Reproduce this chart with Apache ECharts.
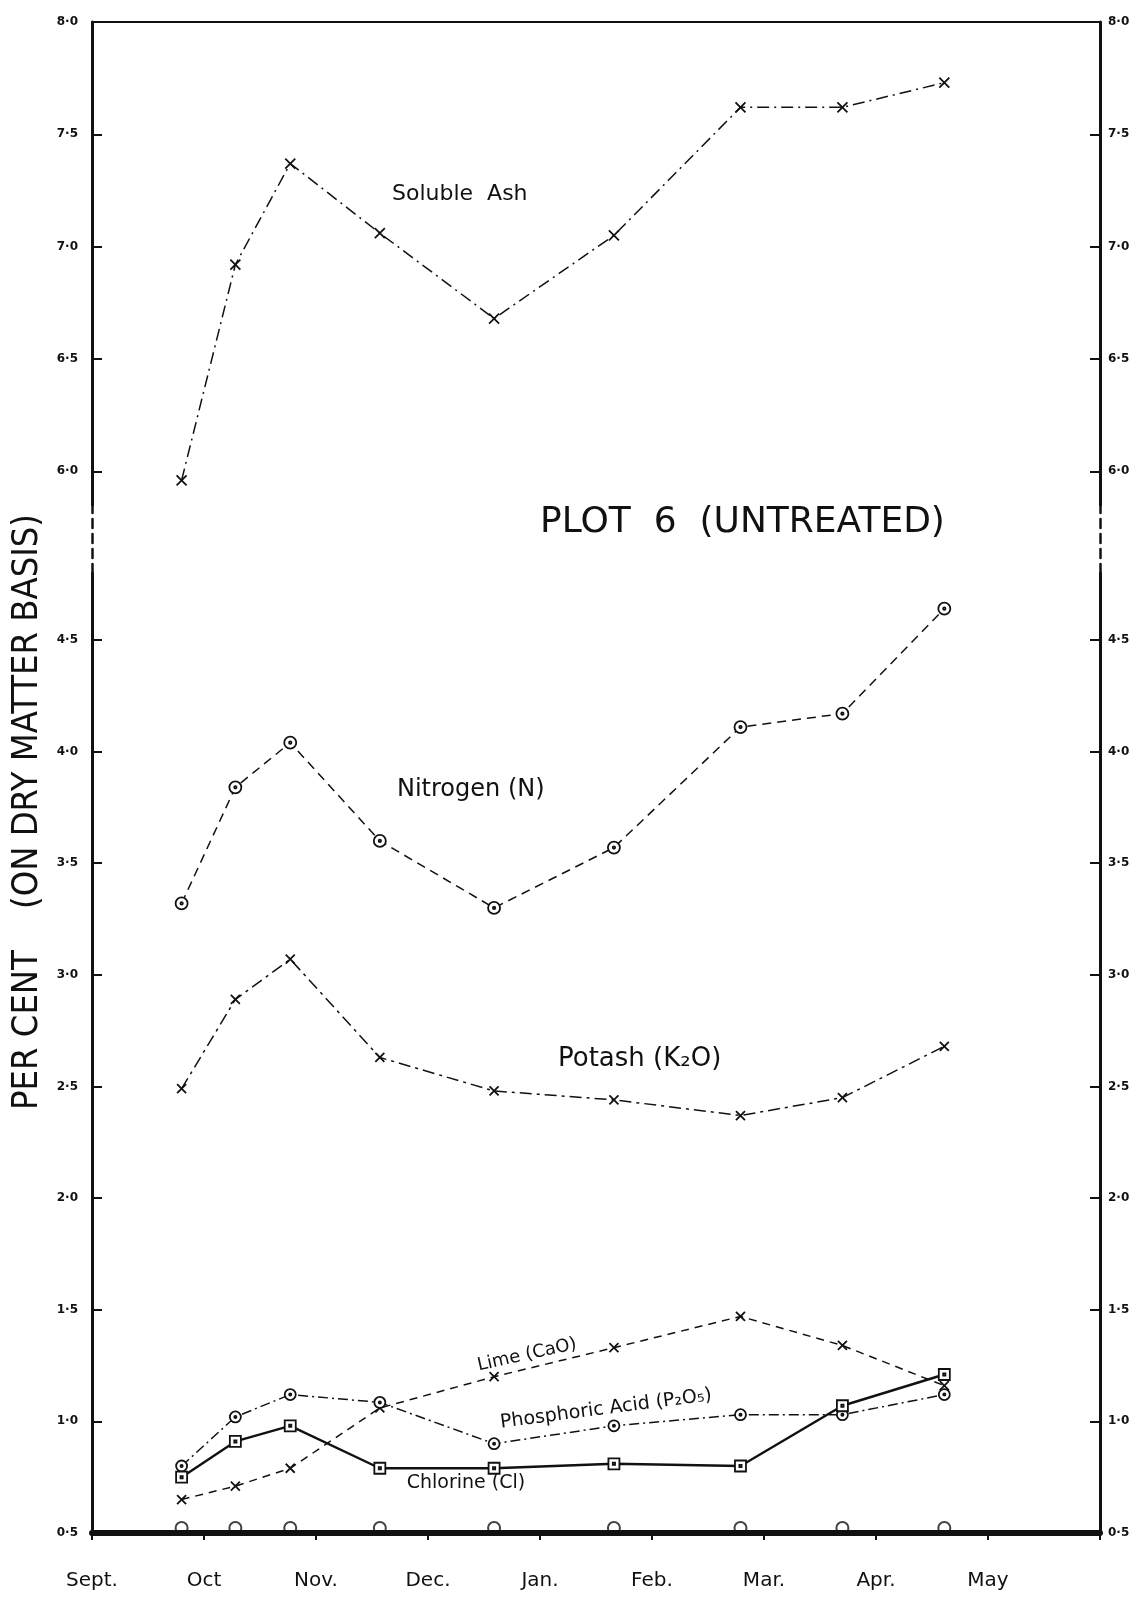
<!DOCTYPE html>
<html>
<head>
<meta charset="utf-8">
<title>Plot 6 (Untreated)</title>
<script src="https://cdn.jsdelivr.net/npm/echarts@6/dist/echarts.min.js"></script>
</head>
<body style="margin:0;background:#fff;">
<div id="main" style="width:1143px;height:1597px;"></div>
<script type="text/javascript">
// month names under the axis (Sept = 0 ... May = 8, right edge = 9)
var months = ['Sept.', 'Oct', 'Nov.', 'Dec.', 'Jan.', 'Feb.', 'Mar.', 'Apr.', 'May', ''];
// sampling dates, in months after 1st Sept.
var sampleAt = [0.8, 1.28, 1.77, 2.57, 3.59, 4.66, 5.79, 6.7, 7.61];

// per cent on dry matter basis
var solubleAsh = [5.96, 6.92, 7.37, 7.06, 6.68, 7.05, 7.62, 7.62, 7.73];
var nitrogen   = [3.32, 3.84, 4.04, 3.60, 3.30, 3.57, 4.11, 4.17, 4.64];
var potash     = [2.49, 2.89, 3.07, 2.63, 2.48, 2.44, 2.37, 2.45, 2.68];
var lime       = [0.65, 0.71, 0.79, 1.06, 1.20, 1.33, 1.47, 1.34, 1.16];
var phosphoric = [0.80, 1.02, 1.12, 1.085, 0.90, 0.98, 1.03, 1.03, 1.12];
var chlorine   = [0.75, 0.91, 0.98, 0.79, 0.79, 0.81, 0.80, 1.07, 1.21];
var sampleMark = [0.5, 0.5, 0.5, 0.5, 0.5, 0.5, 0.5, 0.5, 0.5];

var upperTicks = [6.0, 6.5, 7.0, 7.5, 8.0];
var lowerTicks = [0.5, 1.0, 1.5, 2.0, 2.5, 3.0, 3.5, 4.0, 4.5];

var INK = '#111';
var FONT = 'DejaVu Sans';
var CROSS = 'path://M0,0L10,10M10,0L0,10';
var RING = 'path://M0,5A5,5,0,1,1,10,5A5,5,0,1,1,0,5ZM4,5A1,1,0,1,1,6,5A1,1,0,1,1,4,5Z';
var BOX = 'path://M0,0L10,0L10,10L0,10ZM4,4L6,4L6,6L4,6Z';

function pairs(arr) {
  return sampleAt.map(function (x, i) { return [x, arr[i]]; });
}
function fmt(v) {
  return v.toFixed(1).replace('.', '\u00b7');
}

function yAx(grid, pos, min, max, ticks) {
  return {
    type: 'value', gridIndex: grid, position: pos, min: min, max: max,
    axisLine: { show: true, onZero: false, lineStyle: { color: INK, width: 3 } },
    axisTick: { show: true, inside: true, length: 10, customValues: ticks, lineStyle: { color: INK, width: 2 } },
    axisLabel: {
      show: true, customValues: ticks, formatter: fmt, margin: pos === 'left' ? 14 : 8,
      color: INK, fontSize: 12, fontWeight: 'bold', fontFamily: FONT
    },
    splitLine: { show: false }
  };
}
function breakAx(pos) {
  return {
    type: 'value', gridIndex: 1, position: pos, min: 0, max: 1,
    axisLine: { show: true, onZero: false, lineStyle: { color: INK, width: 2.5, type: [9, 6] } },
    axisTick: { show: false }, axisLabel: { show: false }, splitLine: { show: false }
  };
}
function lineSeries(name, arr, x, y, symbol, size, dash, width) {
  return {
    name: name, type: 'line', xAxisIndex: x, yAxisIndex: y,
    data: pairs(arr), symbol: symbol, symbolSize: size, showAllSymbol: true,
    lineStyle: { color: INK, width: width || 1.5, type: dash },
    itemStyle: { color: '#fff', borderColor: INK, borderWidth: 1.8 },
    emphasis: { disabled: true }, clip: false, z: 3
  };
}

var myChart = echarts.init(document.getElementById('main'));
myChart.setOption({
  animation: false,
  backgroundColor: '#fff',
  title: {
    text: 'PLOT  6  (UNTREATED)', left: 535, top: 500,
    textStyle: { color: INK, fontSize: 36, fontWeight: 'normal', fontFamily: FONT }
  },
  grid: [
    { left: 92, width: 1008, top: 22, height: 483, containLabel: false, outerBoundsMode: 'none' },
    { left: 92, width: 1008, top: 505, height: 68, containLabel: false, outerBoundsMode: 'none' },
    { left: 92, width: 1008, top: 573, height: 960, containLabel: false, outerBoundsMode: 'none' }
  ],
  xAxis: [
    {
      type: 'value', gridIndex: 0, position: 'top', min: 0, max: 9,
      axisLine: { show: true, onZero: false, lineStyle: { color: INK, width: 2 } },
      axisTick: { show: false }, axisLabel: { show: false }, splitLine: { show: false }
    },
    { type: 'value', gridIndex: 1, min: 0, max: 9, show: false },
    {
      type: 'value', gridIndex: 2, position: 'bottom', min: 0, max: 9, interval: 1,
      axisLine: { show: true, onZero: false, lineStyle: { color: INK, width: 6 } },
      axisTick: { show: true, length: 7, lineStyle: { color: INK, width: 2 } },
      axisLabel: {
        margin: 38, color: INK, fontSize: 20, fontFamily: FONT,
        formatter: function (v) { return months[Math.round(v)] || ''; }
      },
      splitLine: { show: false }
    }
  ],
  yAxis: [
    yAx(0, 'left', 5.85, 8.0, upperTicks),
    yAx(0, 'right', 5.85, 8.0, upperTicks),
    breakAx('left'),
    breakAx('right'),
    yAx(2, 'left', 0.5, 4.8, lowerTicks),
    yAx(2, 'right', 0.5, 4.8, lowerTicks)
  ],
  graphic: [
    {
      type: 'text', x: 28, y: 812, rotation: Math.PI / 2,
      style: {
        text: 'PER CENT    (ON DRY MATTER BASIS)', fill: INK,
        font: '36px "Liberation Sans Narrow", "DejaVu Sans Condensed", sans-serif',
        align: 'center', verticalAlign: 'middle'
      }
    },
    { type: 'text', x: 392, y: 194, style: { text: 'Soluble  Ash', fill: INK, font: '22px "DejaVu Sans"', verticalAlign: 'middle' } },
    { type: 'text', x: 397, y: 790, style: { text: 'Nitrogen (N)', fill: INK, font: '24px "DejaVu Sans"', verticalAlign: 'middle' } },
    { type: 'text', x: 558, y: 1059, style: { text: 'Potash (K\u2082O)', fill: INK, font: '26px "DejaVu Sans"', verticalAlign: 'middle' } },
    { type: 'text', x: 527, y: 1355, rotation: 0.22, style: { text: 'Lime (CaO)', fill: INK, font: '18px "DejaVu Sans"', align: 'center', verticalAlign: 'middle' } },
    { type: 'text', x: 606, y: 1409, rotation: 0.13, style: { text: 'Phosphoric Acid (P\u2082O\u2085)', fill: INK, font: '19px "DejaVu Sans"', align: 'center', verticalAlign: 'middle' } },
    { type: 'text', x: 466, y: 1483, style: { text: 'Chlorine (Cl)', fill: INK, font: '19px "DejaVu Sans"', align: 'center', verticalAlign: 'middle' } }
  ],
  series: [
    lineSeries('Soluble Ash', solubleAsh, 0, 0, CROSS, 10, [12, 5, 2, 5]),
    lineSeries('Nitrogen (N)', nitrogen, 2, 4, RING, 12, [9, 6]),
    lineSeries('Potash (K2O)', potash, 2, 4, CROSS, 9, [12, 5, 3, 5]),
    lineSeries('Lime (CaO)', lime, 2, 4, CROSS, 9, [8, 6]),
    lineSeries('Phosphoric Acid (P2O5)', phosphoric, 2, 4, RING, 11, [10, 4, 2, 4]),
    lineSeries('Chlorine (Cl)', chlorine, 2, 4, BOX, 11, 'solid', 2.4),
    {
      name: 'Sampling dates', type: 'scatter', xAxisIndex: 2, yAxisIndex: 4,
      data: pairs(sampleMark), symbol: 'circle', symbolSize: 12, symbolOffset: [0, -5],
      itemStyle: { color: 'rgba(0,0,0,0)', borderColor: INK, borderWidth: 2 },
      emphasis: { disabled: true }, clip: false, z: 4
    }
  ]
});
</script>
</body>
</html>
